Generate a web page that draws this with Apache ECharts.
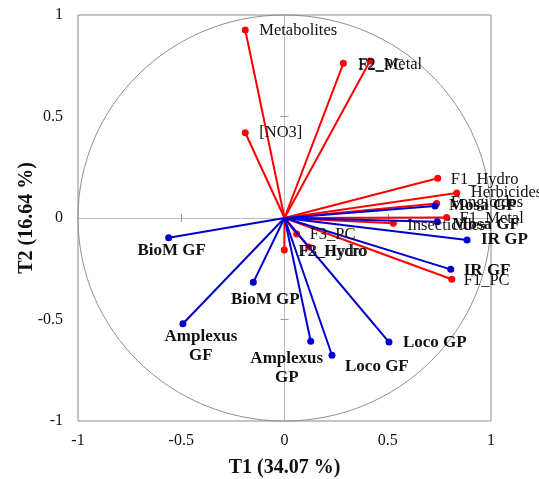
<!DOCTYPE html>
<html>
<head>
<meta charset="utf-8">
<script src="https://cdn.jsdelivr.net/npm/echarts@6/dist/echarts.min.js"></script>
<style>
  html, body { margin: 0; padding: 0; background: #fff; }
  #chart { width: 539px; height: 479px; }
</style>
</head>
<body>
<div id="chart"></div>
<script>
// Variables (red vectors): loadings on T1 and T2
const varNames = ['Metabolites', 'F2_PC', 'F2_Metal', '[NO3]', 'F1_Hydro', 'Herbicides',
  'Fongicides', 'F1_Metal', 'Insecticides', 'F1_PC', 'F3_PC', 'F2_Hydro', 'F3_Hydro'];
const varT1 = [-0.190, 0.285, 0.414, -0.190, 0.742, 0.834, 0.737, 0.785, 0.527, 0.810, 0.059, -0.001, 0.117];
const varT2 = [0.926, 0.762, 0.773, 0.420, 0.196, 0.123, 0.072, 0.003, -0.026, -0.302, -0.079, -0.158, -0.143];

// Observations (blue vectors)
const obsNames = ['Mosa GP', 'Mosa GF', 'IR GP', 'IR GF', 'BioM GF', 'BioM GP',
  'Amplexus\nGF', 'Amplexus\nGP', 'Loco GF', 'Loco GP'];
const obsT1 = [0.729, 0.740, 0.884, 0.805, -0.561, -0.151, -0.492, 0.127, 0.230, 0.506];
const obsT2 = [0.059, -0.018, -0.108, -0.253, -0.097, -0.317, -0.521, -0.607, -0.676, -0.611];

// Axis tick values
const tickValues = [-1, -0.5, 0, 0.5, 1];

// Label placement (pixel offset from the point, text alignment)
const labelPlacement = {
  'Metabolites': [14, 1, 'left'],
  'F2_PC': [15, 2, 'left'],
  'F2_Metal': [-12, 4, 'left'],
  '[NO3]': [14, 0, 'left'],
  'F1_Hydro': [13, 1, 'left'],
  'Herbicides': [14, 0, 'left'],
  'Fongicides': [14, -1, 'left'],
  'F1_Metal': [13, 1, 'left'],
  'Insecticides': [14, 2, 'left'],
  'F1_PC': [12, 1, 'left'],
  'F3_PC': [13, 1, 'left'],
  'F2_Hydro': [14, 2, 'left'],
  'F3_Hydro': [-9, 5, 'left'],
  'Mosa GP': [14, 0, 'left'],
  'Mosa GF': [15, 3, 'left'],
  'IR GP': [14, 0, 'left'],
  'IR GF': [13, 1, 'left'],
  'BioM GF': [3, 13, 'center'],
  'BioM GP': [12, 17, 'center'],
  'Amplexus\nGF': [18, 22, 'center'],
  'Amplexus\nGP': [-24, 27, 'center'],
  'Loco GF': [13, 11, 'left'],
  'Loco GP': [14, 1, 'left']
};

const SERIF = '"Liberation Serif", "Times New Roman", serif';
const chart = echarts.init(document.getElementById('chart'), null, { renderer: 'canvas' });

function vectorSeries(names, t1, t2, color, labelStyle) {
  return {
    type: 'custom',
    xAxisIndex: 0,
    yAxisIndex: 0,
    z: 3,
    data: names.map((n, i) => ({ name: n, value: [t1[i], t2[i]] })),
    renderItem: function (params, api) {
      const origin = api.coord([0, 0]);
      const p = api.coord([api.value(0), api.value(1)]);
      const name = names[params.dataIndex];
      const place = labelPlacement[name] || [12, 0, 'left'];
      return {
        type: 'group',
        children: [
          { type: 'line', shape: { x1: origin[0], y1: origin[1], x2: p[0], y2: p[1] },
            style: { stroke: color, lineWidth: 2 } },
          { type: 'circle', shape: { cx: p[0], cy: p[1], r: 3.5 },
            style: { fill: color } },
          { type: 'text', z2: 10,
            style: Object.assign({
              text: name, x: p[0] + place[0], y: p[1] + place[1],
              align: place[2], verticalAlign: 'middle', fill: '#111',
              fontFamily: SERIF
            }, labelStyle) }
        ]
      };
    }
  };
}

const zeroAxisBase = {
  type: 'value', min: -1, max: 1, interval: 0.5,
  splitLine: { show: false },
  axisLabel: { show: false },
  axisLine: { show: true, onZero: true, onZeroAxisIndex: 0, lineStyle: { color: '#bdbdbd', width: 1 } },
  axisTick: { show: true, customValues: [-0.5, 0.5], length: 4, lineStyle: { color: '#9a9a9a' } }
};

const option = {
  backgroundColor: '#fff',
  animation: false,
  grid: { left: 78, right: 48, top: 15, bottom: 58, show: true, borderColor: '#8a8a8a', borderWidth: 1,
    containLabel: false, outerBoundsMode: 'none' },
  xAxis: [
    {
      type: 'value', min: -1, max: 1, interval: 0.5, position: 'bottom',
      name: 'T1 (34.07 %)', nameLocation: 'middle', nameGap: 37, nameMoveOverlap: false,
      nameTextStyle: { fontFamily: SERIF, fontWeight: 'bold', fontSize: 20, color: '#111' },
      axisLine: { show: false, onZero: false },
      axisTick: { show: false },
      splitLine: { show: false },
      axisLabel: { fontFamily: SERIF, fontSize: 16, color: '#111', margin: 12,
        customValues: tickValues, formatter: v => String(v) }
    },
    Object.assign({}, zeroAxisBase, { position: 'bottom' }),
    Object.assign({}, zeroAxisBase, { position: 'top' })
  ],
  yAxis: [
    {
      type: 'value', min: -1, max: 1, interval: 0.5, position: 'left',
      name: 'T2 (16.64 %)', nameLocation: 'middle', nameGap: 41, nameMoveOverlap: false,
      nameTextStyle: { fontFamily: SERIF, fontWeight: 'bold', fontSize: 20, color: '#111' },
      axisLine: { show: false, onZero: false },
      axisTick: { show: false },
      splitLine: { show: false },
      axisLabel: { fontFamily: SERIF, fontSize: 16, color: '#111', margin: 15,
        customValues: tickValues, formatter: v => String(v) }
    },
    Object.assign({}, zeroAxisBase, { position: 'left' }),
    Object.assign({}, zeroAxisBase, { position: 'right' })
  ],
  series: [
    {
      // correlation circle of radius 1
      type: 'custom',
      xAxisIndex: 0, yAxisIndex: 0, z: 1, silent: true,
      data: [[0, 0]],
      renderItem: function (params, api) {
        const c = api.coord([0, 0]);
        const s = api.size([1, 1]);
        return { type: 'ellipse', shape: { cx: c[0], cy: c[1], rx: s[0], ry: s[1] },
          style: { fill: 'none', stroke: '#8f8f8f', lineWidth: 1 } };
      }
    },
    vectorSeries(varNames, varT1, varT2, '#ff0000', { fontSize: 16.5, fontWeight: 'normal' }),
    vectorSeries(obsNames, obsT1, obsT2, '#0000cc', { fontSize: 17, fontWeight: 'bold', lineHeight: 19 })
  ]
};

chart.setOption(option);
</script>
</body>
</html>
